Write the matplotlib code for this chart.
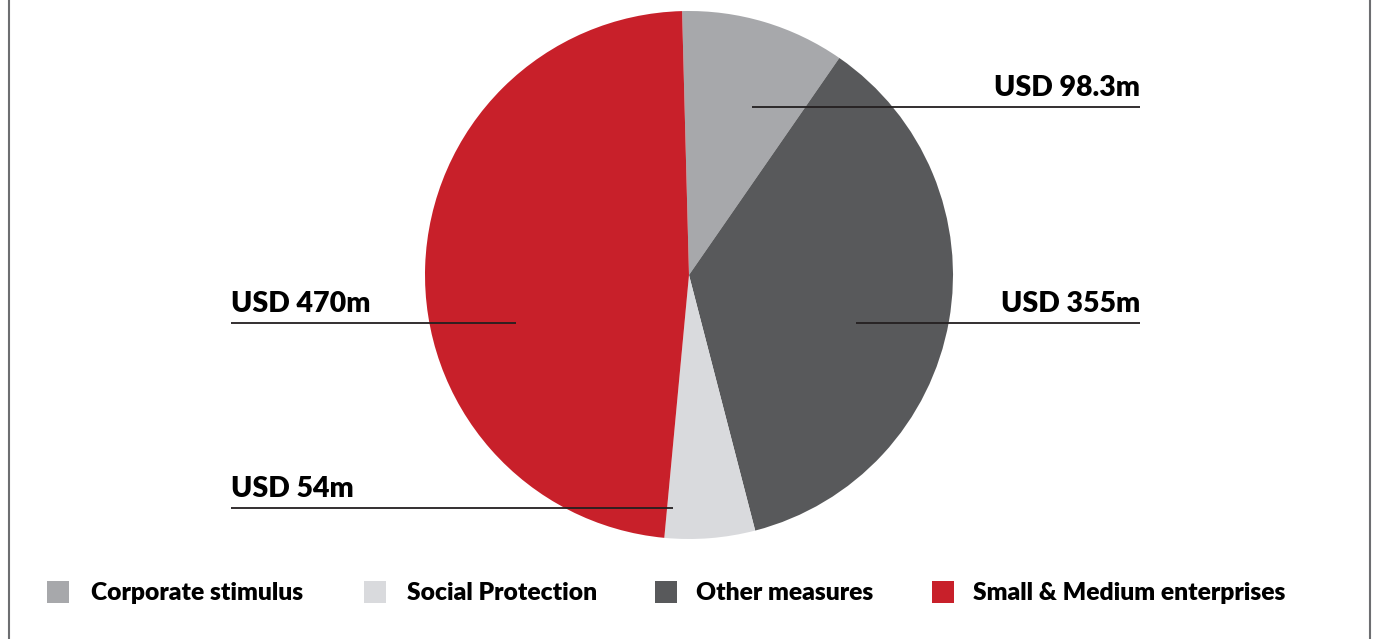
import matplotlib.pyplot as plt
from matplotlib.patches import Rectangle

categories = ["Corporate stimulus", "Other measures", "Social Protection",
              "Small & Medium enterprises"]
values = [98.3, 355, 54, 470]
value_labels = ["USD 98.3m", "USD 355m", "USD 54m", "USD 470m"]
colors = ["#A7A8AB", "#58595B", "#D9DADD", "#C8202A"]

legend_order = ["Corporate stimulus", "Social Protection", "Other measures",
                "Small & Medium enterprises"]

W, H = 1375, 639


def main():
    plt.rcParams["font.family"] = ["Lato", "DejaVu Sans"]
    fig = plt.figure(figsize=(W / 100, H / 100), dpi=100)
    ax = fig.add_axes([0, 0, 1, 1])
    ax.set_xlim(0, W)
    ax.set_ylim(0, H)
    ax.set_aspect("equal")
    ax.axis("off")

    # pie in pixel coordinates (y up)
    ax.pie(values, colors=colors, center=(689, H - 275), radius=264,
           startangle=91.5, counterclock=False,
           wedgeprops=dict(linewidth=0))
    ax.set_xlim(0, W)
    ax.set_ylim(0, H)

    # label lines: (x0, x1, y, text x, align)
    label_pos = {
        "USD 98.3m": (752, 1140, 107, 1140, "right"),
        "USD 355m": (856, 1140, 323, 1140, "right"),
        "USD 54m": (231, 673, 508, 231, "left"),
        "USD 470m": (231, 516, 323, 231, "left"),
    }
    for lab in value_labels:
        x0, x1, y, tx, ha = label_pos[lab]
        ax.plot([x0, x1], [H - y, H - y], color="#231F20", lw=1.3,
                solid_capstyle="butt")
        ax.text(tx, H - y + 6, lab, ha=ha, va="bottom", fontsize=20.5,
                fontweight="heavy", color="black")

    # legend
    sq_x = [47, 364, 655, 932]
    txt_x = [91, 407, 696, 973]
    for i, name in enumerate(legend_order):
        c = colors[categories.index(name)]
        ax.add_patch(Rectangle((sq_x[i], H - 603), 22, 22, color=c, lw=0))
        ax.text(txt_x[i], H - 593, name, ha="left", va="center",
                fontsize=17.7, fontweight="heavy", color="black")

    # side borders
    ax.plot([9, 9], [0, H], color="#6D6E71", lw=1.5)
    ax.plot([1370, 1370], [0, H], color="#6D6E71", lw=1.5)

    fig.savefig("out.png", dpi=100, facecolor="white")


if __name__ == "__main__":
    main()
